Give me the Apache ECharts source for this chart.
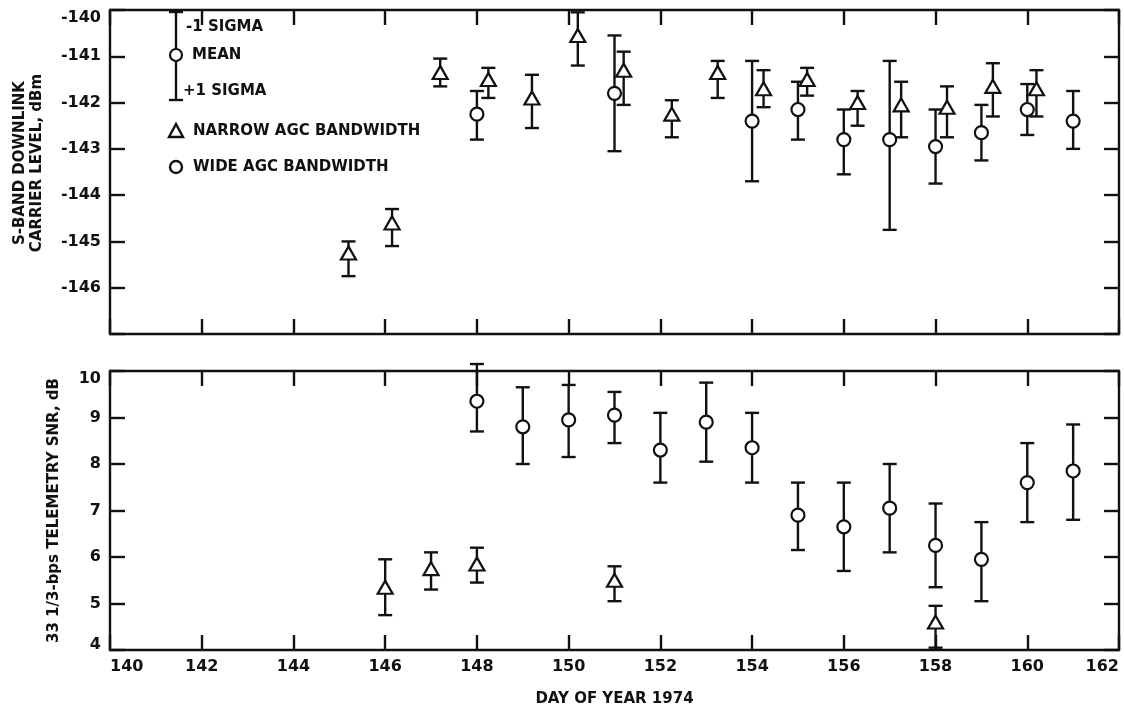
<!DOCTYPE html>
<html>
<head>
<meta charset="utf-8">
<title>S-band carrier level and telemetry SNR, 1974</title>
<script src="https://cdn.jsdelivr.net/npm/echarts@6/dist/echarts.min.js"></script>
<style>
  html, body { margin: 0; padding: 0; background: #fff; }
  #chart { width: 1124px; height: 710px; }
</style>
</head>
<body>
<div id="chart"></div>
<script>
// ---- Upper panel: S-band downlink carrier level, dBm ----
// narrow AGC bandwidth (triangles)
const carrierNarrowDay  = [145.2, 146.15, 147.2, 148.25, 149.2, 150.2, 151.2, 152.25, 153.25, 154.25, 155.2, 156.3, 157.25, 158.25, 159.25, 160.2];
const carrierNarrowMean = [-145.25, -144.6, -141.35, -141.5, -141.9, -140.55, -141.3, -142.25, -141.35, -141.7, -141.5, -142.0, -142.05, -142.1, -141.65, -141.7];
const carrierNarrowLow  = [-145.75, -145.1, -141.65, -141.9, -142.55, -141.2, -142.05, -142.75, -141.9, -142.1, -141.85, -142.5, -142.75, -142.75, -142.3, -142.3];
const carrierNarrowHigh = [-145.0, -144.3, -141.05, -141.25, -141.4, -140.05, -140.9, -141.95, -141.1, -141.3, -141.25, -141.75, -141.55, -141.65, -141.15, -141.3];
// wide AGC bandwidth (circles)
const carrierWideDay  = [148, 151, 154, 155, 156, 157, 158, 159, 160, 161];
const carrierWideMean = [-142.25, -141.8, -142.4, -142.15, -142.8, -142.8, -142.95, -142.65, -142.15, -142.4];
const carrierWideLow  = [-142.8, -143.05, -143.7, -142.8, -143.55, -144.75, -143.75, -143.25, -142.7, -143.0];
const carrierWideHigh = [-141.75, -140.55, -141.1, -141.55, -142.15, -141.1, -142.15, -142.05, -141.6, -141.75];

// ---- Lower panel: 33 1/3-bps telemetry SNR, dB ----
const snrNarrowDay  = [146, 147, 148, 151, 158];
const snrNarrowMean = [5.35, 5.75, 5.85, 5.5, 4.6];
const snrNarrowLow  = [4.75, 5.3, 5.45, 5.05, 4.05];
const snrNarrowHigh = [5.95, 6.1, 6.2, 5.8, 4.95];

const snrWideDay  = [148, 149, 150, 151, 152, 153, 154, 155, 156, 157, 158, 159, 160, 161];
const snrWideMean = [9.35, 8.8, 8.95, 9.05, 8.3, 8.9, 8.35, 6.9, 6.65, 7.05, 6.25, 5.95, 7.6, 7.85];
const snrWideLow  = [8.7, 8.0, 8.15, 8.45, 7.6, 8.05, 7.6, 6.15, 5.7, 6.1, 5.35, 5.05, 6.75, 6.8];
const snrWideHigh = [10.15, 9.65, 9.7, 9.55, 9.1, 9.75, 9.1, 7.6, 7.6, 8.0, 7.15, 6.75, 8.45, 8.85];

// axis ranges and tick steps
const dayMin = 140, dayMax = 162, dayStep = 2;
const carrierMin = -147, carrierMax = -140, carrierStep = 1;
const snrMin = 4, snrMax = 10, snrStep = 1;

const INK = '#111';
const FONT = '"DejaVu Sans", Verdana, sans-serif';

function rows(day, mean, low, high) {
  return day.map((d, i) => [d, mean[i], low[i], high[i]]);
}

// vertical +/- 1 sigma bar with end caps
function sigmaBar(params, api) {
  const x = api.value(0);
  const lo = api.coord([x, api.value(2)]);
  const hi = api.coord([x, api.value(3)]);
  const cap = 7;
  const style = { stroke: INK, lineWidth: 2.4 };
  return {
    type: 'group',
    children: [
      { type: 'line', shape: { x1: lo[0], y1: lo[1], x2: hi[0], y2: hi[1] }, style },
      { type: 'line', shape: { x1: lo[0] - cap, y1: lo[1], x2: lo[0] + cap, y2: lo[1] }, style },
      { type: 'line', shape: { x1: hi[0] - cap, y1: hi[1], x2: hi[0] + cap, y2: hi[1] }, style }
    ]
  };
}

function barSeries(data, xi, yi) {
  return {
    type: 'custom', xAxisIndex: xi, yAxisIndex: yi, z: 2,
    renderItem: sigmaBar, encode: { x: 0, y: [2, 3] }, data
  };
}
function meanSeries(data, xi, yi, shape) {
  return {
    type: 'scatter', xAxisIndex: xi, yAxisIndex: yi, z: 5,
    symbol: shape, symbolSize: shape === 'triangle' ? [15, 13] : 13,
    itemStyle: { color: '#fff', borderColor: INK, borderWidth: 2.2, opacity: 1 },
    data: data.map(r => [r[0], r[1]])
  };
}

const tick = { show: true, inside: true, length: 15, lineStyle: { color: INK, width: 2.4 } };
const line = { show: true, onZero: false, lineStyle: { color: INK, width: 2.4 } };
const labelStyle = { color: INK, fontSize: 16, fontWeight: 'bold', fontFamily: FONT };
const nameStyle = { color: INK, fontSize: 15, fontWeight: 'bold', fontFamily: FONT };
// end labels sit a little inside the frame
const endRich = {
  down: { padding: [15, 0, 0, 0], color: INK, fontSize: 16, fontWeight: 'bold', fontFamily: FONT },
  up:   { padding: [0, 0, 10, 0], color: INK, fontSize: 16, fontWeight: 'bold', fontFamily: FONT }
};

function xAx(grid, pos, labels, extra) {
  return Object.assign({
    type: 'value', gridIndex: grid, position: pos,
    min: dayMin, max: dayMax, interval: dayStep,
    axisLine: line, axisTick: tick, splitLine: { show: false },
    axisLabel: Object.assign({ show: labels, margin: 9, alignMinLabel: 'left', alignMaxLabel: 'right' }, labelStyle)
  }, extra || {});
}
function yAx(grid, pos, lo, hi, step, labels, extra) {
  return Object.assign({
    type: 'value', gridIndex: grid, position: pos,
    min: lo, max: hi, interval: step,
    axisLine: line, axisTick: tick, splitLine: { show: false },
    axisLabel: Object.assign({
      show: labels, margin: 9, rich: endRich,
      formatter: v => {
        if (v === carrierMin) return '';
        if (v === hi) return '{down|' + v + '}';
        if (v === lo) return '{up|' + v + '}';
        return String(v);
      }
    }, labelStyle)
  }, extra || {});
}

const cN = rows(carrierNarrowDay, carrierNarrowMean, carrierNarrowLow, carrierNarrowHigh);
const cW = rows(carrierWideDay, carrierWideMean, carrierWideLow, carrierWideHigh);
const sN = rows(snrNarrowDay, snrNarrowMean, snrNarrowLow, snrNarrowHigh);
const sW = rows(snrWideDay, snrWideMean, snrWideLow, snrWideHigh);

// key for the sigma bar and the two AGC bandwidth markers
const keyStroke = { stroke: INK, lineWidth: 2.4 };
const keyText = (x, y, t) => ({
  type: 'text', x, y,
  style: { text: t, fill: INK, font: 'bold 15px ' + FONT, verticalAlign: 'middle', align: 'left' }
});
const keyGraphics = [
  { type: 'line', shape: { x1: 176, y1: 12, x2: 176, y2: 100 }, style: keyStroke },
  { type: 'line', shape: { x1: 169, y1: 12, x2: 183, y2: 12 }, style: keyStroke },
  { type: 'line', shape: { x1: 169, y1: 100, x2: 183, y2: 100 }, style: keyStroke },
  { type: 'circle', shape: { cx: 176, cy: 55, r: 6 }, style: { fill: '#fff', stroke: INK, lineWidth: 2.2 } },
  keyText(186, 27, '-1 SIGMA'),
  keyText(192, 55, 'MEAN'),
  keyText(183, 91, '+1 SIGMA'),
  { type: 'polygon', shape: { points: [[169, 137], [183, 137], [176, 124]] }, style: { fill: '#fff', stroke: INK, lineWidth: 2.4 } },
  keyText(193, 131, 'NARROW AGC BANDWIDTH'),
  { type: 'circle', shape: { cx: 176, cy: 167, r: 6 }, style: { fill: '#fff', stroke: INK, lineWidth: 2.4 } },
  keyText(193, 167, 'WIDE AGC BANDWIDTH')
];

const option = {
  animation: false,
  backgroundColor: '#fff',
  textStyle: { fontFamily: FONT },
  grid: [
    { left: 110, top: 10, width: 1009, height: 324, outerBoundsMode: 'none', containLabel: false },
    { left: 110, top: 371, width: 1009, height: 279, outerBoundsMode: 'none', containLabel: false }
  ],
  xAxis: [
    xAx(0, 'bottom', false),
    xAx(0, 'top', false),
    xAx(1, 'bottom', true, {
      name: 'DAY OF YEAR 1974', nameLocation: 'middle', nameGap: 42,
      nameTextStyle: Object.assign({}, nameStyle)
    }),
    xAx(1, 'top', false)
  ],
  yAxis: [
    yAx(0, 'left', carrierMin, carrierMax, carrierStep, true, {
      name: 'S-BAND DOWNLINK\nCARRIER LEVEL, dBm', nameLocation: 'middle', nameGap: 64,
      nameRotate: 90, nameTextStyle: Object.assign({ lineHeight: 17, padding: [0, 0, 0, 18] }, nameStyle)
    }),
    yAx(0, 'right', carrierMin, carrierMax, carrierStep, false),
    yAx(1, 'left', snrMin, snrMax, snrStep, true, {
      name: '33 1/3-bps TELEMETRY SNR, dB', nameLocation: 'middle', nameGap: 48,
      nameRotate: 90, nameTextStyle: Object.assign({}, nameStyle)
    }),
    yAx(1, 'right', snrMin, snrMax, snrStep, false)
  ],
  graphic: keyGraphics,
  series: [
    barSeries(cN, 0, 0), meanSeries(cN, 0, 0, 'triangle'),
    barSeries(cW, 0, 0), meanSeries(cW, 0, 0, 'circle'),
    barSeries(sN, 2, 2), meanSeries(sN, 2, 2, 'triangle'),
    barSeries(sW, 2, 2), meanSeries(sW, 2, 2, 'circle')
  ]
};

const chart = echarts.init(document.getElementById('chart'), null, { renderer: 'canvas' });
chart.setOption(option);
</script>
</body>
</html>
